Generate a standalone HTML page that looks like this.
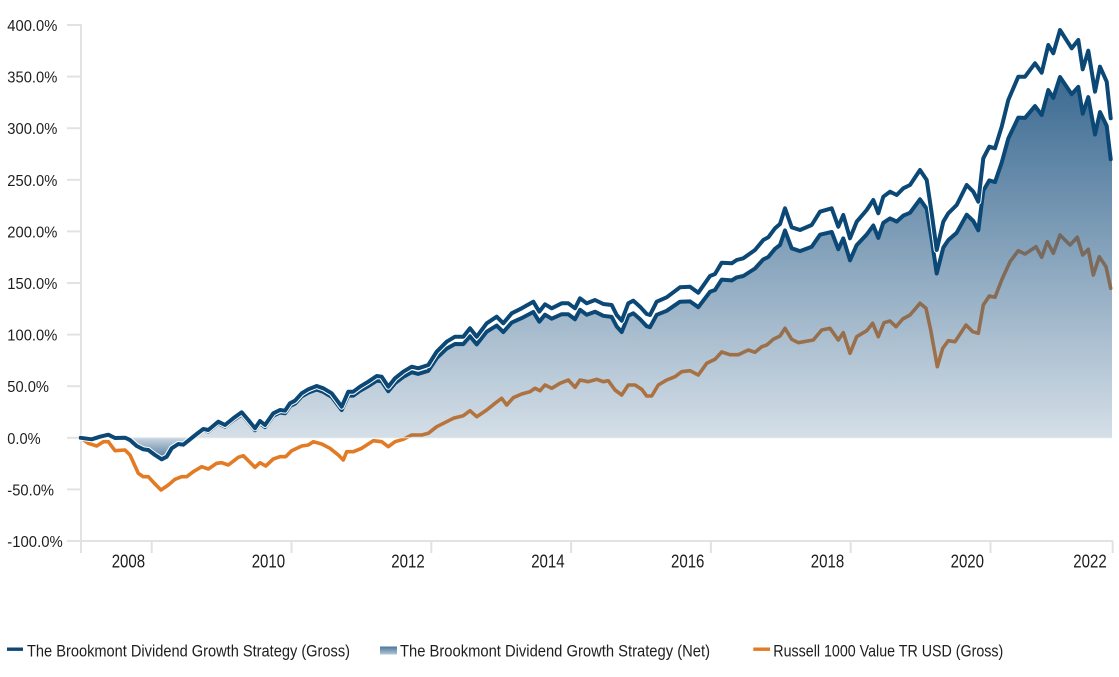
<!DOCTYPE html>
<html><head><meta charset="utf-8"><style>
html,body{margin:0;padding:0;background:#fff;}
svg{display:block;}
text{font-family:"Liberation Sans",Arial,sans-serif;fill:#1e1e1e;}
</style></head><body>
<svg width="1119" height="677" viewBox="0 0 1119 677" xmlns="http://www.w3.org/2000/svg">
<defs>
<linearGradient id="gp" gradientUnits="userSpaceOnUse" x1="0" y1="437.8" x2="0" y2="77">
<stop offset="0" stop-color="#2a5d88" stop-opacity="0.2"/>
<stop offset="1" stop-color="#2a5d88" stop-opacity="0.92"/>
</linearGradient>
<linearGradient id="gn" gradientUnits="userSpaceOnUse" x1="0" y1="437.8" x2="0" y2="460">
<stop offset="0" stop-color="#2a5d88" stop-opacity="0.25"/>
<stop offset="1" stop-color="#2a5d88" stop-opacity="0.85"/>
</linearGradient>
<linearGradient id="gl" x1="0" y1="0" x2="0" y2="1">
<stop offset="0" stop-color="#4b769c"/>
<stop offset="1" stop-color="#b4c7d7"/>
</linearGradient>
<clipPath id="cp"><rect x="0" y="0" width="1119" height="437.8"/></clipPath>
<clipPath id="cn"><rect x="0" y="437.8" width="1119" height="120"/></clipPath>
</defs>

<!-- axes -->
<g stroke="#e2e2e2" stroke-width="2" fill="none">
<line x1="81" y1="24" x2="81" y2="553"/>
<line x1="67" y1="541" x2="1113" y2="541"/>
<line x1="67" y1="25" x2="81" y2="25"/>
<line x1="67" y1="76.6" x2="81" y2="76.6"/>
<line x1="67" y1="128.2" x2="81" y2="128.2"/>
<line x1="67" y1="179.8" x2="81" y2="179.8"/>
<line x1="67" y1="231.4" x2="81" y2="231.4"/>
<line x1="67" y1="283" x2="81" y2="283"/>
<line x1="67" y1="334.6" x2="81" y2="334.6"/>
<line x1="67" y1="386.2" x2="81" y2="386.2"/>
<line x1="67" y1="437.8" x2="81" y2="437.8"/>
<line x1="67" y1="489.4" x2="81" y2="489.4"/>
<line x1="151.7" y1="541" x2="151.7" y2="553"/>
<line x1="291.5" y1="541" x2="291.5" y2="553"/>
<line x1="431.3" y1="541" x2="431.3" y2="553"/>
<line x1="571.1" y1="541" x2="571.1" y2="553"/>
<line x1="710.9" y1="541" x2="710.9" y2="553"/>
<line x1="850.7" y1="541" x2="850.7" y2="553"/>
<line x1="990.5" y1="541" x2="990.5" y2="553"/>
<line x1="1112.7" y1="541" x2="1112.7" y2="553"/>
</g>

<!-- y labels -->
<g font-size="16">
<text x="7.3" y="31" textLength="50" lengthAdjust="spacingAndGlyphs">400.0%</text>
<text x="7.3" y="82.6" textLength="50" lengthAdjust="spacingAndGlyphs">350.0%</text>
<text x="7.3" y="134.2" textLength="50" lengthAdjust="spacingAndGlyphs">300.0%</text>
<text x="7.3" y="185.8" textLength="50" lengthAdjust="spacingAndGlyphs">250.0%</text>
<text x="7.3" y="237.4" textLength="50" lengthAdjust="spacingAndGlyphs">200.0%</text>
<text x="7.3" y="289" textLength="50" lengthAdjust="spacingAndGlyphs">150.0%</text>
<text x="7.3" y="340.6" textLength="50" lengthAdjust="spacingAndGlyphs">100.0%</text>
<text x="7.3" y="392.2" textLength="41.7" lengthAdjust="spacingAndGlyphs">50.0%</text>
<text x="7.3" y="443.8" textLength="33.3" lengthAdjust="spacingAndGlyphs">0.0%</text>
<text x="7.3" y="495.4" textLength="46.7" lengthAdjust="spacingAndGlyphs">-50.0%</text>
<text x="7.3" y="547" textLength="55.4" lengthAdjust="spacingAndGlyphs">-100.0%</text>
</g>

<!-- x labels -->
<g font-size="18">
<text x="111.7" y="567.3" textLength="33.4" lengthAdjust="spacingAndGlyphs">2008</text>
<text x="251.7" y="567.3" textLength="33.4" lengthAdjust="spacingAndGlyphs">2010</text>
<text x="391.3" y="567.3" textLength="33.4" lengthAdjust="spacingAndGlyphs">2012</text>
<text x="531.2" y="567.3" textLength="33.4" lengthAdjust="spacingAndGlyphs">2014</text>
<text x="671" y="567.3" textLength="33.4" lengthAdjust="spacingAndGlyphs">2016</text>
<text x="810.8" y="567.3" textLength="33.4" lengthAdjust="spacingAndGlyphs">2018</text>
<text x="950.6" y="567.3" textLength="33.4" lengthAdjust="spacingAndGlyphs">2020</text>
<text x="1073.3" y="567.3" textLength="33.4" lengthAdjust="spacingAndGlyphs">2022</text>
</g>

<!-- Russell (orange) -->
<polyline fill="none" stroke="#e27b24" stroke-width="3.6" stroke-linejoin="round" stroke-linecap="round" points="80.7,437.8 88.3,443.3 96.7,446 103.3,441.7 108.3,441.7 115,450.7 125,450 130,455 138.3,473.3 143.3,476.7 148.3,476.7 155,484 161,490 168.3,485 175,479.3 181.7,476.7 186.7,476.7 193.3,471.7 201.7,466.7 208.3,469 216.7,463.3 221.7,462.7 228.3,465 238.3,457.3 243.3,455.7 255,467.3 260,462.7 265.7,466 273.3,459 280,456.7 285.7,456.7 291.7,450.7 301.7,446 308.3,445 313.3,441.7 321.7,444 330,448.3 338.3,455 343.3,460 346.7,451.7 353.3,451.7 361.7,448.3 373.3,440.7 381.7,441.7 388.3,446.7 395,441.7 403.3,439.3 411.7,435 421.7,435 428.3,433.3 436.7,426.7 446.7,421.7 453.3,418.3 463.3,415.7 470,410.7 476.7,416.7 486.7,410 495,403.3 501.7,398.3 506.7,405 513.3,397.7 521.7,394 530,391.7 535,388.3 540,390.7 545,385 551.7,388.3 560,383.3 568.3,380 575,387.3 580,380 588.3,381.7 596.7,379.3 603.3,381.7 608.3,380.7 615,390 621.7,395 628.3,385 635,385 641.7,389.3 646.7,396 651.7,396 658.3,385 666.7,380 675,376.7 681.7,371.7 690,370.7 698.3,375 706.7,363.3 715,359.3 721.7,352 730,354.7 738.3,354.7 748.3,350 755,352.3 761.7,346.7 766.7,345 773.3,339.3 780,336 785,328.3 791.7,339.3 798.3,342.7 813.3,340 821.7,330 830,328.3 838.3,340 843.3,332.7 850,353.3 856.7,336.7 866.7,330.7 872.7,323.3 878.3,336.7 884,322.7 890,321 896,326.7 902.7,319 910,315 920,303.3 926,308.3 930.7,330 937.3,366.7 942.7,348.3 948.3,340.7 955,341.7 966,325 972.7,331.7 978.3,333.3 983.3,305 989.3,296 995,297.3 1001.7,280 1010,261.7 1018.3,250.7 1025,254 1036,246.7 1041.7,257.3 1047.3,241.7 1053.3,253.3 1060,235 1070,245 1077.3,237.3 1082.7,255 1088.3,249.3 1093.3,275 1099.3,256.7 1106,266.7 1110.7,288.3"/>

<!-- Net area -->
<g id="area">
<path id="ap" clip-path="url(#cp)" fill="url(#gp)" d="M80.7,437.8 L91.7,439.4 100,436.9 108.3,435 115,438.3 125,438.1 130,440.5 136.7,446.5 143.3,449.9 148.3,450.6 155,455.6 161.7,459.9 166.7,457.4 171.7,449.1 178.3,444.9 183.3,445.6 190,440.4 196.7,435.2 203.3,430.3 208.3,431.4 218.3,423.3 225,426.6 233.3,420.1 241.7,414.3 248.3,421.9 255,430.2 260,423.1 265,427 273.3,415.7 280,412.5 285,413.3 290,406.1 295,403.6 301.7,396.4 308.3,392.6 316.7,389.5 323.3,391.9 331.7,396.9 341.7,410 348.3,395.5 353.3,395.6 360,390.8 368.3,386.1 376.7,380.7 381.7,381.4 388.3,391.2 395,383.2 403.3,376.9 411.7,372.2 418.3,373.9 428.3,370.8 436.7,358.1 446.7,348.6 455,344 463.3,344.1 470,336.2 476.7,344.4 486.7,331.7 496.7,325.6 503.3,332.1 511.7,322.6 521.7,318.1 533.3,312 539.3,321.7 545,314.7 551.7,318.7 561.7,314.2 568.3,314.3 575,319.2 580,309.8 586.7,314.7 595,311.7 603.3,315.8 611.7,316.9 616.7,326.5 621.7,332 628.3,315.7 633.3,313.3 640,319.1 646.7,326.2 650,327.2 656.7,314.8 666.7,310.8 680,301.7 690,301.4 698.3,307.2 710,291.8 715,290 721.7,279.6 731.7,280.4 736.7,277.4 743.3,276 755,268.5 763.3,259.4 768.3,257 775,248.8 780,245 785,230.4 791.7,248.3 800,251.1 811.7,246.8 820,234.7 831.7,231.9 838.3,249.2 843.3,238.4 850,260.3 856.7,245.1 866.7,234.5 873.3,225.5 878.3,237.9 883.3,222.8 890,218.4 896.7,221.6 903.3,215.6 910,212.8 920,199.3 926.7,208.8 931.7,239.5 936.7,273.5 943.3,247.6 948.3,240.1 956.7,232.7 966.7,214.7 973.3,221 978.3,230.3 983.3,190.8 989.3,180.4 995,182.1 1001.7,162.6 1008.3,138.5 1018.3,117.6 1025,117.9 1035,106.1 1041.7,115 1048.3,90.1 1053.3,97.9 1060,77 1071.7,94.2 1078.3,86.9 1082.7,113.7 1088.3,97.1 1095,134.5 1100,112.1 1106.7,125.9 1110.7,159.2 L1112,159.2 1112,437.8 Z"/>
<path clip-path="url(#cn)" fill="url(#gn)" d="M80.7,437.8 L91.7,439.4 100,436.9 108.3,435 115,438.3 125,438.1 130,440.5 136.7,446.5 143.3,449.9 148.3,450.6 155,455.6 161.7,459.9 166.7,457.4 171.7,449.1 178.3,444.9 183.3,445.6 190,440.4 196.7,435.2 203.3,430.3 L203.3,437.8 Z"/>
</g>
<line x1="81" y1="437.8" x2="1112" y2="437.8" stroke="#dfe7ee" stroke-width="1"/>

<!-- Net line -->
<polyline fill="none" stroke="#0c4876" stroke-width="4" stroke-linejoin="round" stroke-linecap="round" points="80.7,437.8 91.7,439.4 100,436.9 108.3,435 115,438.3 125,438.1 130,440.5 136.7,446.5 143.3,449.9 148.3,450.6 155,455.6 161.7,459.9 166.7,457.4 171.7,449.1 178.3,444.9 183.3,445.6 190,440.4 196.7,435.2 203.3,430.3 208.3,431.4 218.3,423.3 225,426.6 233.3,420.1 241.7,414.3 248.3,421.9 255,430.2 260,423.1 265,427 273.3,415.7 280,412.5 285,413.3 290,406.1 295,403.6 301.7,396.4 308.3,392.6 316.7,389.5 323.3,391.9 331.7,396.9 341.7,410 348.3,395.5 353.3,395.6 360,390.8 368.3,386.1 376.7,380.7 381.7,381.4 388.3,391.2 395,383.2 403.3,376.9 411.7,372.2 418.3,373.9 428.3,370.8 436.7,358.1 446.7,348.6 455,344 463.3,344.1 470,336.2 476.7,344.4 486.7,331.7 496.7,325.6 503.3,332.1 511.7,322.6 521.7,318.1 533.3,312 539.3,321.7 545,314.7 551.7,318.7 561.7,314.2 568.3,314.3 575,319.2 580,309.8 586.7,314.7 595,311.7 603.3,315.8 611.7,316.9 616.7,326.5 621.7,332 628.3,315.7 633.3,313.3 640,319.1 646.7,326.2 650,327.2 656.7,314.8 666.7,310.8 680,301.7 690,301.4 698.3,307.2 710,291.8 715,290 721.7,279.6 731.7,280.4 736.7,277.4 743.3,276 755,268.5 763.3,259.4 768.3,257 775,248.8 780,245 785,230.4 791.7,248.3 800,251.1 811.7,246.8 820,234.7 831.7,231.9 838.3,249.2 843.3,238.4 850,260.3 856.7,245.1 866.7,234.5 873.3,225.5 878.3,237.9 883.3,222.8 890,218.4 896.7,221.6 903.3,215.6 910,212.8 920,199.3 926.7,208.8 931.7,239.5 936.7,273.5 943.3,247.6 948.3,240.1 956.7,232.7 966.7,214.7 973.3,221 978.3,230.3 983.3,190.8 989.3,180.4 995,182.1 1001.7,162.6 1008.3,138.5 1018.3,117.6 1025,117.9 1035,106.1 1041.7,115 1048.3,90.1 1053.3,97.9 1060,77 1071.7,94.2 1078.3,86.9 1082.7,113.7 1088.3,97.1 1095,134.5 1100,112.1 1106.7,125.9 1110.7,159.2"/>

<!-- Gross line with halo -->
<g fill="none" stroke-linejoin="round" stroke-linecap="round">
<polyline stroke="#ffffff" stroke-width="6" points="80.7,437.8 91.7,439.3 100,436.7 108.3,434.7 115,438 125,437.7 130,440 136.7,446 143.3,449.3 148.3,450 155,455 161.7,459.3 166.7,456.7 171.7,448.3 178.3,444 183.3,444.7 190,439.3 196.7,434 203.3,429 208.3,430 218.3,421.7 225,425 233.3,418.3 241.7,412.3 248.3,420 255,428.3 260,421 265,425 273.3,413.3 280,410 285,410.7 290,403.3 295,400.7 301.7,393.3 308.3,389.3 316.7,386 323.3,388.3 331.7,393.3 341.7,406.7 348.3,391.7 353.3,391.7 360,386.7 368.3,381.7 376.7,376 381.7,376.7 388.3,386.7 395,378.3 403.3,371.7 411.7,366.7 418.3,368.3 428.3,365 436.7,351.7 446.7,341.7 455,336.7 463.3,336.7 470,328.3 476.7,336.7 486.7,323.3 496.7,316.7 503.3,323.3 511.7,313.3 521.7,308.3 533.3,301.7 539.3,311.7 545,304.3 551.7,308.3 561.7,303.3 568.3,303.3 575,308.3 580,298.3 586.7,303.3 595,300 603.3,304 611.7,305 616.7,315 621.7,320.7 628.3,303.3 633.3,300.7 640,306.7 646.7,314 650,315 656.7,301.7 666.7,297.3 680,287.3 690,286.7 698.3,292.7 710,276 715,274 721.7,262.7 731.7,263.3 736.7,260 743.3,258.3 755,250 763.3,240 768.3,237.3 775,228.3 780,224 785,208.3 791.7,227.3 800,230 811.7,225 820,211.7 831.7,208.3 838.3,226.7 843.3,215 850,238.3 856.7,221.7 866.7,210 873.3,200 878.3,213.3 883.3,196.7 890,191.7 896.7,195 903.3,188.3 910,185 920,170 926.7,180 931.7,213.3 936.7,250 943.3,221.7 948.3,213.3 956.7,205 966.7,185 973.3,191.7 978.3,201.7 983.3,158.3 989.3,146.7 995,148.3 1001.7,126.7 1008.3,100 1018.3,76.7 1025,76.7 1035,63.3 1041.7,72.7 1048.3,45 1053.3,53.3 1060,30 1071.7,48.3 1078.3,40 1082.7,69.3 1088.3,50.7 1095,91.7 1100,66.7 1106.7,81.7 1110.7,118.3"/>
<polyline stroke="#0c4876" stroke-width="4" points="80.7,437.8 91.7,439.3 100,436.7 108.3,434.7 115,438 125,437.7 130,440 136.7,446 143.3,449.3 148.3,450 155,455 161.7,459.3 166.7,456.7 171.7,448.3 178.3,444 183.3,444.7 190,439.3 196.7,434 203.3,429 208.3,430 218.3,421.7 225,425 233.3,418.3 241.7,412.3 248.3,420 255,428.3 260,421 265,425 273.3,413.3 280,410 285,410.7 290,403.3 295,400.7 301.7,393.3 308.3,389.3 316.7,386 323.3,388.3 331.7,393.3 341.7,406.7 348.3,391.7 353.3,391.7 360,386.7 368.3,381.7 376.7,376 381.7,376.7 388.3,386.7 395,378.3 403.3,371.7 411.7,366.7 418.3,368.3 428.3,365 436.7,351.7 446.7,341.7 455,336.7 463.3,336.7 470,328.3 476.7,336.7 486.7,323.3 496.7,316.7 503.3,323.3 511.7,313.3 521.7,308.3 533.3,301.7 539.3,311.7 545,304.3 551.7,308.3 561.7,303.3 568.3,303.3 575,308.3 580,298.3 586.7,303.3 595,300 603.3,304 611.7,305 616.7,315 621.7,320.7 628.3,303.3 633.3,300.7 640,306.7 646.7,314 650,315 656.7,301.7 666.7,297.3 680,287.3 690,286.7 698.3,292.7 710,276 715,274 721.7,262.7 731.7,263.3 736.7,260 743.3,258.3 755,250 763.3,240 768.3,237.3 775,228.3 780,224 785,208.3 791.7,227.3 800,230 811.7,225 820,211.7 831.7,208.3 838.3,226.7 843.3,215 850,238.3 856.7,221.7 866.7,210 873.3,200 878.3,213.3 883.3,196.7 890,191.7 896.7,195 903.3,188.3 910,185 920,170 926.7,180 931.7,213.3 936.7,250 943.3,221.7 948.3,213.3 956.7,205 966.7,185 973.3,191.7 978.3,201.7 983.3,158.3 989.3,146.7 995,148.3 1001.7,126.7 1008.3,100 1018.3,76.7 1025,76.7 1035,63.3 1041.7,72.7 1048.3,45 1053.3,53.3 1060,30 1071.7,48.3 1078.3,40 1082.7,69.3 1088.3,50.7 1095,91.7 1100,66.7 1106.7,81.7 1110.7,118.3"/>
</g>

<!-- Legend -->
<rect x="7" y="647.5" width="16" height="3.4" fill="#0c4876"/>
<text x="27" y="656.5" font-size="17" textLength="323" lengthAdjust="spacingAndGlyphs">The Brookmont Dividend Growth Strategy (Gross)</text>
<rect x="380" y="646.5" width="17" height="8" fill="url(#gl)"/>
<text x="400" y="656.5" font-size="17" textLength="310" lengthAdjust="spacingAndGlyphs">The Brookmont Dividend Growth Strategy (Net)</text>
<rect x="753.3" y="647.5" width="16.7" height="3.4" fill="#e27b24"/>
<text x="773.3" y="656.5" font-size="17" textLength="230" lengthAdjust="spacingAndGlyphs">Russell 1000 Value TR USD (Gross)</text>
</svg>
</body></html>
